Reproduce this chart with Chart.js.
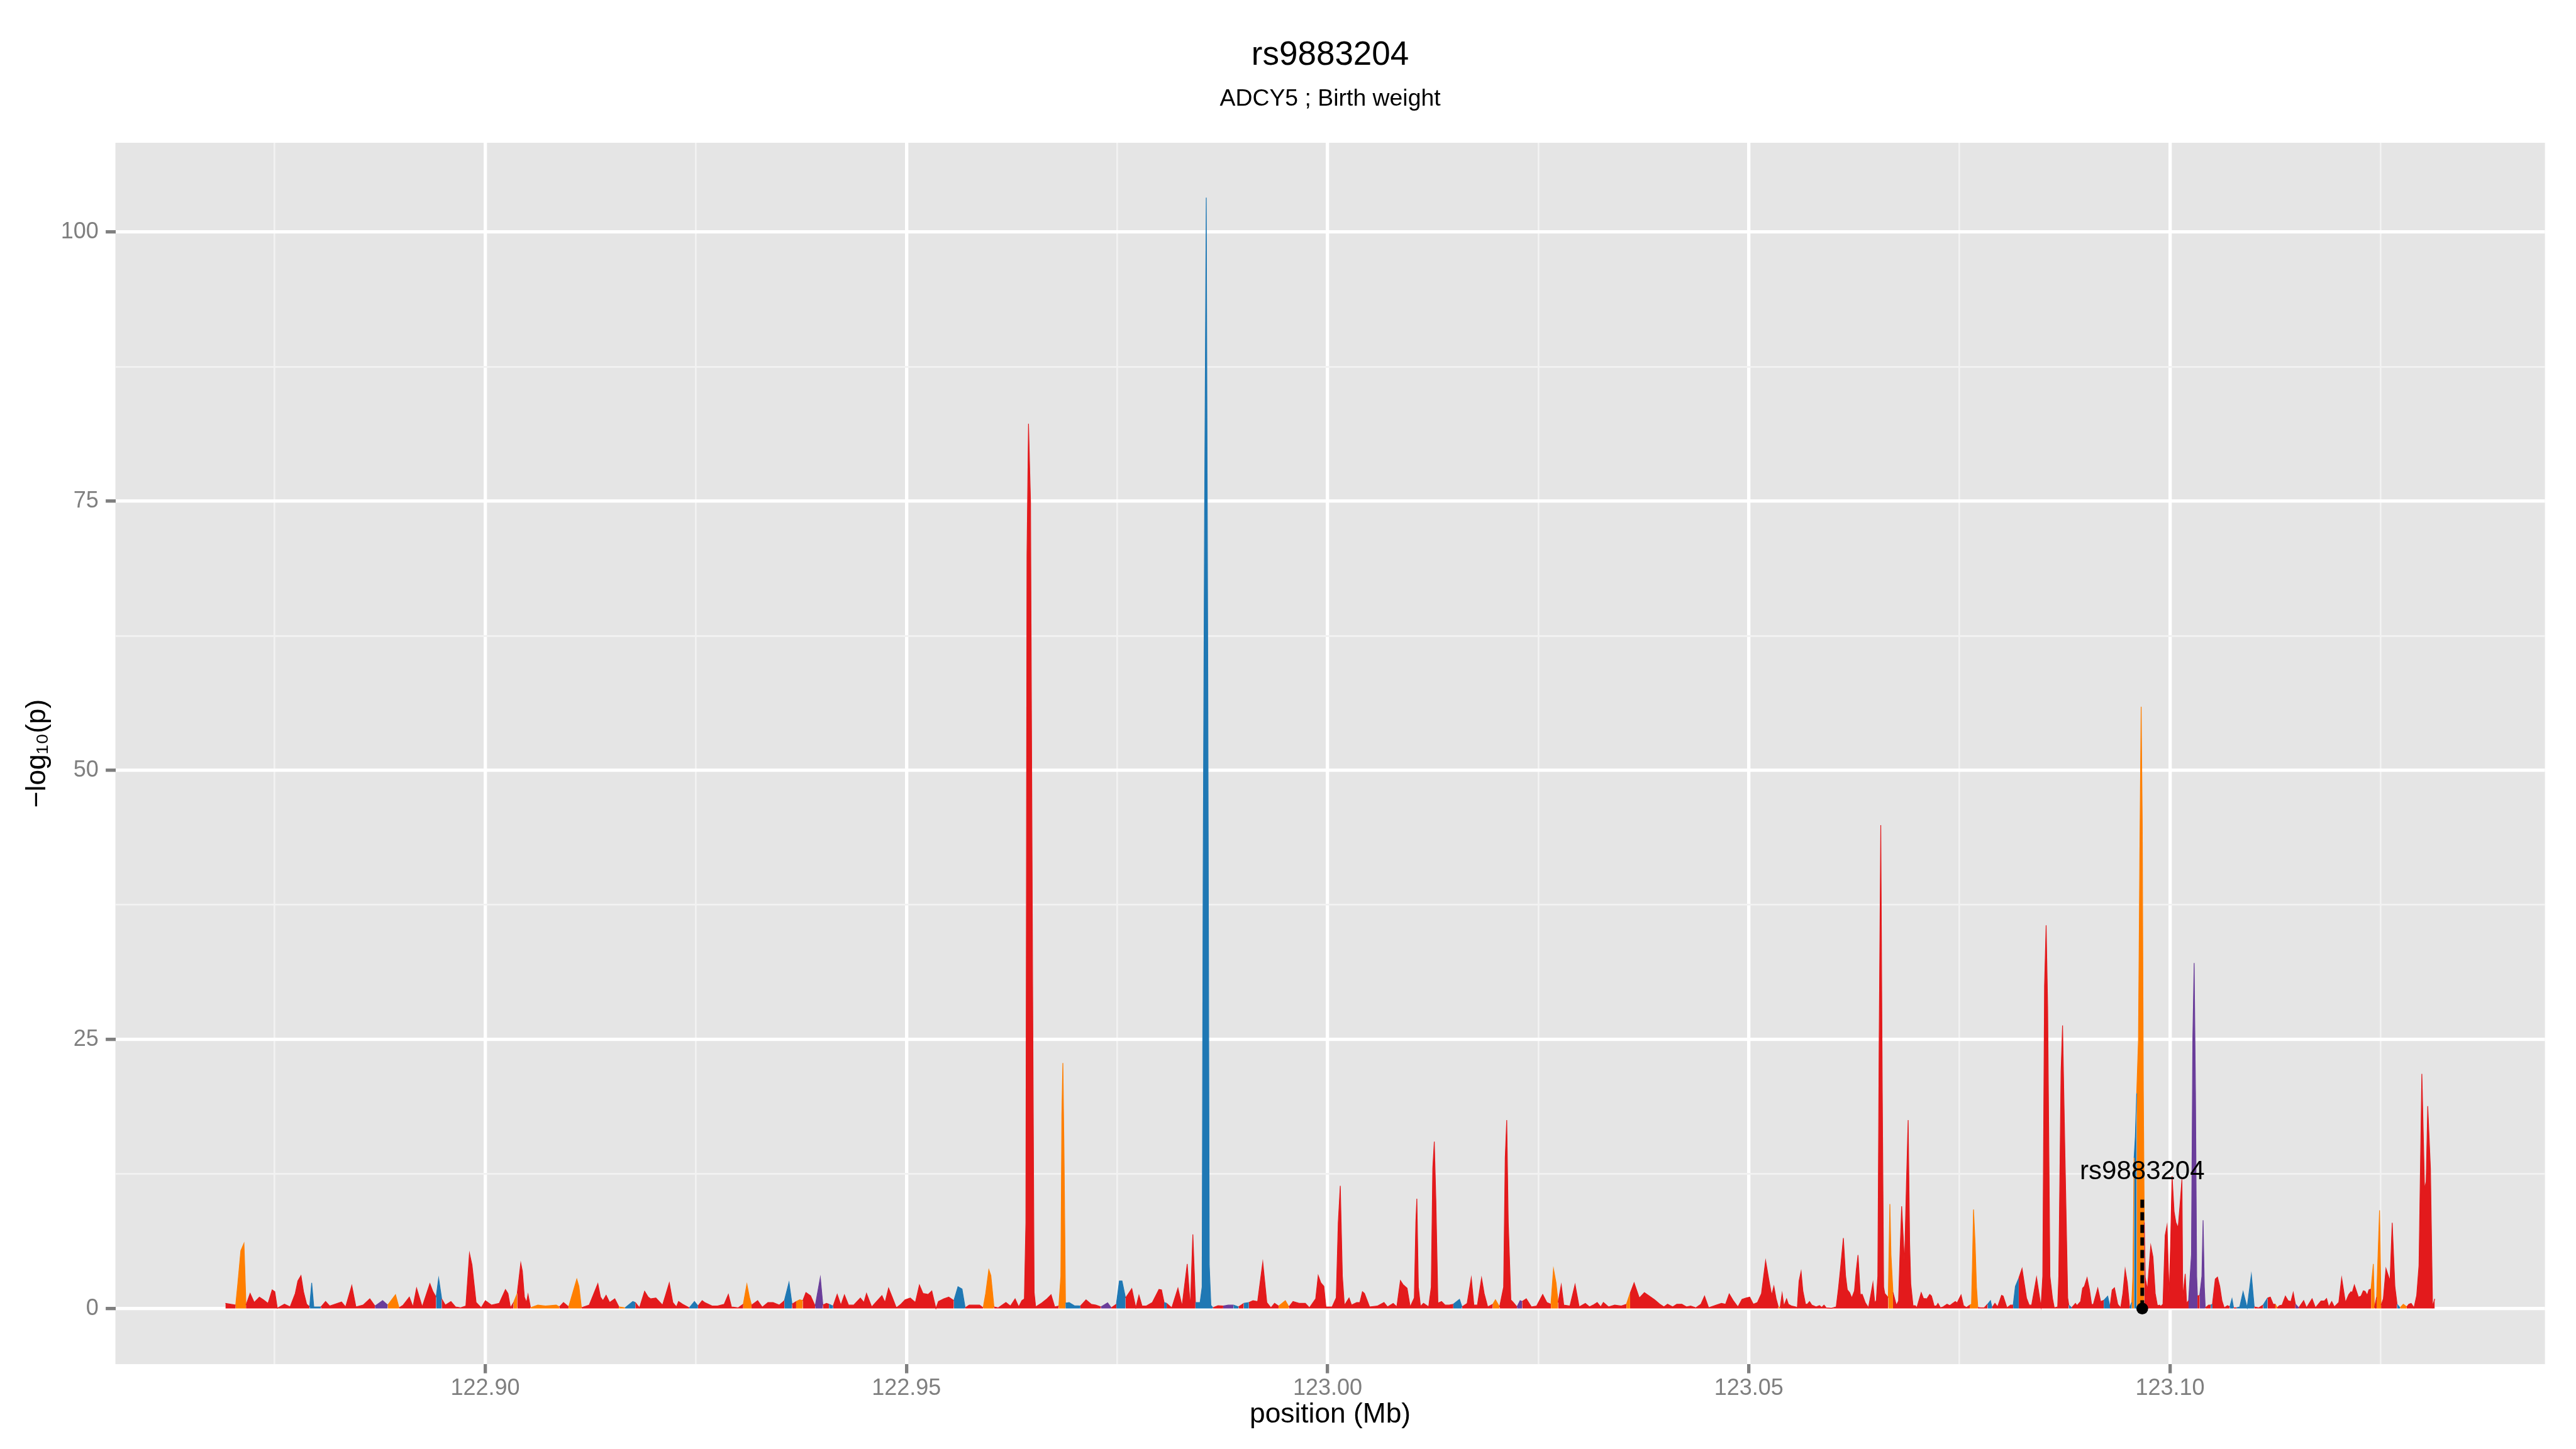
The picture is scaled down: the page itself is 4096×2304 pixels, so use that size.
<!DOCTYPE html>
<html>
<head>
<meta charset="utf-8">
<title>rs9883204</title>
<script src="https://cdn.jsdelivr.net/npm/chart.js@4.4.0/dist/chart.umd.min.js"></script>
<style>
  html, body { margin: 0; padding: 0; background: #ffffff; }
</style>
</head>
<body>
<canvas id="locusPlot" width="4096" height="2304"></canvas>
<script>
// SNP positions (Mb), -log10(p) and class of each SNP (1 red, 2 orange, 3 blue, 4 purple)
const positionMb = [
  122.86916, 122.87038, 122.87062, 122.87099, 122.87136, 122.87160, 122.87209, 122.87258, 122.87319, 122.87367,
  122.87422, 122.87471, 122.87502, 122.87532, 122.87617, 122.87684, 122.87745, 122.87776, 122.87813, 122.87843,
  122.87880, 122.87916, 122.87940, 122.87965, 122.88050, 122.88105, 122.88154, 122.88215, 122.88294, 122.88343,
  122.88416, 122.88465, 122.88550, 122.88630, 122.88691, 122.88782, 122.88843, 122.88935, 122.88977, 122.89026,
  122.89099, 122.89142, 122.89185, 122.89252, 122.89343, 122.89380, 122.89417, 122.89447, 122.89483, 122.89526,
  122.89593, 122.89648, 122.89709, 122.89770, 122.89813, 122.89843, 122.89892, 122.89953, 122.90002, 122.90075,
  122.90166, 122.90240, 122.90270, 122.90300, 122.90337, 122.90380, 122.90422, 122.90441, 122.90465, 122.90490,
  122.90508, 122.90538, 122.90624, 122.90715, 122.90843, 122.90880, 122.90929, 122.90990, 122.91087, 122.91112,
  122.91142, 122.91234, 122.91337, 122.91368, 122.91398, 122.91435, 122.91477, 122.91538, 122.91587, 122.91660,
  122.91752, 122.91782, 122.91831, 122.91892, 122.91935, 122.91965, 122.92026, 122.92105, 122.92185, 122.92227,
  122.92270, 122.92295, 122.92343, 122.92423, 122.92484, 122.92526, 122.92575, 122.92605, 122.92697, 122.92758,
  122.92837, 122.92886, 122.92923, 122.93002, 122.93063, 122.93106, 122.93136, 122.93161, 122.93234, 122.93289,
  122.93356, 122.93417, 122.93490, 122.93551, 122.93606, 122.93642, 122.93691, 122.93734, 122.93770, 122.93807,
  122.93862, 122.93917, 122.93978, 122.94008, 122.94051, 122.94081, 122.94130, 122.94178, 122.94222, 122.94264,
  122.94313, 122.94374, 122.94453, 122.94496, 122.94526, 122.94587, 122.94709, 122.94746, 122.94788, 122.94831,
  122.94880, 122.94935, 122.94984, 122.95045, 122.95106, 122.95154, 122.95197, 122.95258, 122.95301, 122.95350,
  122.95380, 122.95441, 122.95502, 122.95563, 122.95612, 122.95660, 122.95697, 122.95746, 122.95807, 122.95868,
  122.95911, 122.95941, 122.95978, 122.96002, 122.96039, 122.96089, 122.96181, 122.96235, 122.96290, 122.96333,
  122.96370, 122.96400, 122.96418, 122.96431, 122.96449, 122.96473, 122.96498, 122.96516, 122.96534, 122.96607,
  122.96668, 122.96717, 122.96760, 122.96809, 122.96833, 122.96845, 122.96857, 122.96870, 122.96888, 122.96931,
  122.96992, 122.97065, 122.97132, 122.97193, 122.97248, 122.97309, 122.97388, 122.97431, 122.97492, 122.97528,
  122.97559, 122.97601, 122.97675, 122.97723, 122.97760, 122.97797, 122.97845, 122.97919, 122.97998, 122.98028,
  122.98059, 122.98089, 122.98150, 122.98223, 122.98272, 122.98333, 122.98370, 122.98400, 122.98431, 122.98486,
  122.98510, 122.98522, 122.98540, 122.98559, 122.98577, 122.98595, 122.98614, 122.98638, 122.98699, 122.98760,
  122.98821, 122.98882, 122.98943, 122.99004, 122.99065, 122.99114, 122.99169, 122.99230, 122.99278, 122.99327,
  122.99370, 122.99418, 122.99498, 122.99540, 122.99589, 122.99662, 122.99735, 122.99784, 122.99858, 122.99888,
  122.99919, 122.99955, 122.99980, 123.00053, 123.00102, 123.00126, 123.00150, 123.00175, 123.00199, 123.00254,
  123.00284, 123.00345, 123.00382, 123.00413, 123.00437, 123.00498, 123.00589, 123.00669, 123.00711, 123.00778,
  123.00821, 123.00864, 123.00894, 123.00943, 123.00980, 123.01029, 123.01047, 123.01059, 123.01077, 123.01102,
  123.01138, 123.01199, 123.01230, 123.01248, 123.01266, 123.01285, 123.01309, 123.01352, 123.01394, 123.01443,
  123.01492, 123.01565, 123.01595, 123.01656, 123.01705, 123.01736, 123.01778, 123.01827, 123.01858, 123.01900,
  123.01961, 123.01992, 123.02041, 123.02089, 123.02108, 123.02126, 123.02144, 123.02175, 123.02205, 123.02248,
  123.02285, 123.02309, 123.02358, 123.02419, 123.02480, 123.02553, 123.02602, 123.02651, 123.02681, 123.02711,
  123.02736, 123.02773, 123.02803, 123.02876, 123.02937, 123.02986, 123.03059, 123.03108, 123.03151, 123.03200,
  123.03242, 123.03273, 123.03334, 123.03407, 123.03486, 123.03547, 123.03590, 123.03638, 123.03700, 123.03760,
  123.03821, 123.03882, 123.03943, 123.03992, 123.04035, 123.04096, 123.04144, 123.04205, 123.04260, 123.04309,
  123.04370, 123.04431, 123.04474, 123.04523, 123.04614, 123.04675, 123.04724, 123.04767, 123.04815, 123.04870,
  123.04919, 123.04968, 123.05010, 123.05053, 123.05102, 123.05150, 123.05199, 123.05236, 123.05271, 123.05297,
  123.05324, 123.05350, 123.05371, 123.05395, 123.05416, 123.05448, 123.05469, 123.05509, 123.05556, 123.05575,
  123.05596, 123.05620, 123.05641, 123.05673, 123.05694, 123.05720, 123.05747, 123.05799, 123.05839, 123.05865,
  123.05892, 123.05918, 123.05979, 123.06037, 123.06064, 123.06090, 123.06122, 123.06148, 123.06169, 123.06196,
  123.06222, 123.06254, 123.06275, 123.06296, 123.06323, 123.06346, 123.06381, 123.06420, 123.06447, 123.06473,
  123.06494, 123.06513, 123.06531, 123.06547, 123.06566, 123.06584, 123.06600, 123.06613, 123.06655, 123.06674,
  123.06687, 123.06711, 123.06751, 123.06777, 123.06798, 123.06814, 123.06848, 123.06872, 123.06891, 123.06909,
  123.06922, 123.06949, 123.06975, 123.06994, 123.07046, 123.07073, 123.07113, 123.07147, 123.07168, 123.07200,
  123.07226, 123.07245, 123.07274, 123.07305, 123.07353, 123.07385, 123.07419, 123.07451, 123.07472, 123.07519,
  123.07548, 123.07583, 123.07622, 123.07643, 123.07654, 123.07667, 123.07686, 123.07702, 123.07718, 123.07754,
  123.07794, 123.07834, 123.07868, 123.07887, 123.07921, 123.07953, 123.08000, 123.08019, 123.08064, 123.08106,
  123.08138, 123.08164, 123.08204, 123.08243, 123.08296, 123.08328, 123.08357, 123.08415, 123.08468, 123.08489,
  123.08510, 123.08529, 123.08547, 123.08574, 123.08605, 123.08626, 123.08666, 123.08679, 123.08706, 123.08724,
  123.08753, 123.08785, 123.08798, 123.08832, 123.08877, 123.08896, 123.08938, 123.08962, 123.08983, 123.09015,
  123.09044, 123.09068, 123.09089, 123.09142, 123.09176, 123.09213, 123.09260, 123.09287, 123.09313, 123.09340,
  123.09379, 123.09414, 123.09440, 123.09467, 123.09493, 123.09520, 123.09546, 123.09559, 123.09573, 123.09588,
  123.09604, 123.09625, 123.09641, 123.09657, 123.09670, 123.09683, 123.09694, 123.09705, 123.09731, 123.09771,
  123.09797, 123.09824, 123.09850, 123.09876, 123.09890, 123.09916, 123.09942, 123.09964, 123.09990, 123.10006,
  123.10024, 123.10048, 123.10069, 123.10096, 123.10122, 123.10141, 123.10151, 123.10164, 123.10180, 123.10196,
  123.10220, 123.10254, 123.10270, 123.10286, 123.10302, 123.10316, 123.10325, 123.10352, 123.10378, 123.10392,
  123.10407, 123.10418, 123.10458, 123.10484, 123.10503, 123.10537, 123.10563, 123.10590, 123.10616, 123.10643,
  123.10682, 123.10709, 123.10735, 123.10754, 123.10788, 123.10827, 123.10867, 123.10915, 123.10965, 123.10999,
  123.11052, 123.11105, 123.11158, 123.11190, 123.11224, 123.11250, 123.11271, 123.11298, 123.11329, 123.11369,
  123.11401, 123.11435, 123.11462, 123.11488, 123.11528, 123.11586, 123.11620, 123.11686, 123.11726, 123.11792,
  123.11831, 123.11858, 123.11884, 123.11919, 123.11950, 123.12003, 123.12037, 123.12082, 123.12122, 123.12148,
  123.12162, 123.12188, 123.12236, 123.12267, 123.12294, 123.12315, 123.12341, 123.12360, 123.12386, 123.12413,
  123.12426, 123.12452, 123.12487, 123.12505, 123.12532, 123.12563, 123.12611, 123.12637, 123.12669, 123.12695,
  123.12730, 123.12769, 123.12809, 123.12835, 123.12862, 123.12896, 123.12928, 123.12955, 123.12989, 123.13021,
  123.13040, 123.13059, 123.13091, 123.13116, 123.13142
];

const log10p = [
  0.48, 0.32, 2.23, 5.38, 6.05, 0.32, 1.40, 0.56, 1.06, 0.81,
  0.48, 1.73, 1.56, 0.03, 0.40, 0.15, 1.40, 2.56, 3.06, 1.56,
  0.40, 0.15, 2.39, 0.15, 0.15, 0.65, 0.23, 0.40, 0.61, 0.15,
  2.14, 0.15, 0.32, 0.90, 0.23, 0.73, 0.32, 1.28, 0.07, 0.32,
  1.06, 0.15, 1.89, 0.15, 2.31, 1.56, 1.06, 2.81, 0.90, 0.32,
  0.65, 0.15, 0.07, 0.23, 5.13, 4.05, 0.56, 0.07, 0.73, 0.32,
  0.48, 1.76, 1.40, 0.07, 0.56, 1.40, 4.22, 3.47, 1.06, 0.56,
  1.31, 0.07, 0.32, 0.23, 0.32, 0.15, 0.56, 0.15, 2.73, 2.06,
  0.07, 0.32, 2.31, 1.06, 0.73, 1.23, 0.56, 0.90, 0.15, 0.07,
  0.65, 0.56, 0.07, 1.60, 1.06, 0.90, 0.98, 0.32, 2.39, 0.56,
  0.15, 0.65, 0.40, 0.07, 0.65, 0.23, 0.73, 0.56, 0.23, 0.23,
  0.40, 1.31, 0.15, 0.07, 0.40, 2.26, 1.06, 0.32, 0.73, 0.12,
  0.56, 0.56, 0.32, 0.73, 2.43, 0.40, 0.65, 0.81, 0.73, 1.48,
  1.18, 0.23, 2.89, 0.32, 0.48, 0.40, 0.23, 1.31, 0.32, 1.26,
  0.32, 0.32, 0.98, 0.56, 1.40, 0.15, 1.20, 0.56, 1.89, 1.06,
  0.07, 0.40, 0.81, 0.98, 0.56, 2.19, 1.40, 1.31, 1.63, 0.00,
  0.65, 0.90, 1.06, 0.73, 2.03, 1.81, 0.07, 0.32, 0.32, 0.32,
  0.07, 1.40, 3.61, 3.06, 0.15, 0.07, 0.56, 0.23, 0.90, 0.15,
  0.73, 0.90, 8.0, 70.0, 82.2, 75.0, 30.0, 1.5, 0.15, 0.52,
  0.90, 1.28, 0.15, 0.23, 3.0, 18.0, 22.8, 15.0, 0.5, 0.56,
  0.27, 0.23, 0.81, 0.40, 0.32, 0.15, 0.53, 0.07, 0.40, 2.56,
  2.56, 0.98, 1.84, 0.07, 1.23, 0.23, 0.23, 0.56, 1.78, 1.73,
  0.56, 0.48, 0.07, 1.89, 0.23, 4.14, 0.15, 6.88, 0.56, 0.56,
  2.0, 40.0, 75.0, 103.2, 60.0, 4.0, 0.3, 0.07, 0.27, 0.23,
  0.32, 0.32, 0.15, 0.48, 0.56, 0.73, 0.65, 4.30, 0.56, 0.07,
  0.48, 0.23, 0.73, 0.15, 0.65, 0.48, 0.48, 0.07, 0.90, 3.06,
  2.39, 2.06, 0.15, 0.15, 1.0, 8.0, 11.4, 3.0, 0.3, 0.98,
  0.32, 0.56, 0.56, 1.56, 1.40, 0.15, 0.23, 0.56, 0.15, 0.48,
  0.15, 2.59, 2.23, 1.89, 0.15, 1.0, 8.0, 10.2, 2.0, 0.2,
  0.48, 0.15, 2.0, 13.0, 15.5, 10.0, 0.5, 0.65, 0.32, 0.32,
  0.40, 0.86, 0.15, 0.48, 2.84, 0.32, 0.32, 2.84, 1.40, 0.15,
  0.40, 0.81, 0.15, 2.0, 14.0, 17.5, 8.0, 0.8, 0.56, 0.15,
  0.73, 0.65, 0.90, 0.15, 0.23, 1.31, 0.56, 0.40, 3.67, 2.39,
  0.56, 2.19, 0.32, 0.23, 2.23, 0.15, 0.48, 0.15, 0.32, 0.56,
  0.15, 0.56, 0.15, 0.32, 0.23, 0.40, 1.40, 2.39, 0.98, 1.48,
  1.15, 0.81, 0.40, 0.15, 0.40, 0.15, 0.40, 0.40, 0.15, 0.23,
  0.07, 0.40, 1.15, 0.07, 0.32, 0.48, 0.40, 1.36, 0.73, 0.15,
  0.86, 0.98, 1.06, 0.40, 0.56, 1.40, 4.44, 2.73, 1.23, 2.06,
  0.90, 0.15, 0.07, 1.40, 0.23, 0.90, 0.40, 0.23, 0.15, 0.07,
  2.56, 3.44, 1.65, 0.40, 0.40, 0.65, 0.32, 0.15, 0.27, 0.10,
  0.32, 0.07, 0.03, 0.15, 1.89, 3.89, 6.55, 3.06, 1.73, 1.48,
  0.98, 1.65, 3.56, 4.97, 1.31, 1.31, 0.56, 0.07, 1.23, 2.39,
  0.56, 0.73, 3.0, 25.0, 44.9, 20.0, 2.0, 1.40, 1.0, 9.7,
  5.0, 1.5, 0.3, 0.7, 6.0, 9.5, 4.2, 12.0, 17.5, 6.0,
  2.3, 0.27, 0.27, 0.07, 1.48, 0.93, 0.90, 1.31, 1.15, 0.23,
  0.23, 0.48, 0.07, 0.15, 0.40, 0.27, 0.48, 0.65, 0.52, 1.26,
  0.27, 0.10, 0.32, 0.40, 4.0, 9.2, 6.0, 2.0, 0.1, 0.07,
  0.07, 0.40, 0.73, 0.07, 0.48, 0.15, 1.23, 1.15, 0.07, 0.32,
  0.32, 2.06, 2.81, 3.72, 0.98, 0.32, 0.32, 2.89, 0.15, 3.0,
  30.0, 35.6, 28.0, 3.0, 0.90, 0.07, 0.15, 3.0, 22.0, 26.3,
  14.0, 1.0, 0.32, 0.07, 0.48, 0.27, 0.65, 1.89, 2.06, 2.86,
  1.73, 0.40, 0.37, 1.89, 0.65, 0.76, 1.15, 0.15, 1.73, 1.93,
  0.40, 0.07, 1.40, 3.64, 2.39, 0.07, 0.56, 3.0, 14.0, 16.0,
  20.0, 25.0, 42.0, 55.9, 45.0, 20.0, 8.0, 2.9, 1.73, 5.85,
  4.80, 1.40, 0.27, 0.32, 0.20, 0.40, 6.80, 7.71, 1.15, 6.0,
  12.3, 9.0, 8.0, 7.5, 10.0, 12.0, 1.0, 2.0, 3.22, 0.5,
  0.73, 5.0, 25.0, 32.1, 20.0, 3.0, 1.15, 1.23, 3.0, 8.2,
  2.0, 0.07, 0.32, 0.32, 0.40, 2.73, 2.92, 2.06, 0.73, 0.07,
  0.27, 0.15, 0.90, 0.07, 0.07, 0.15, 1.56, 0.07, 3.14, 0.15,
  0.07, 0.32, 0.98, 1.06, 0.40, 0.40, 0.07, 0.27, 0.32, 1.15,
  0.73, 0.65, 1.48, 0.40, 0.07, 0.73, 0.07, 0.90, 0.07, 0.70,
  0.70, 0.93, 0.15, 0.65, 0.15, 0.56, 2.84, 0.56, 1.31, 1.56,
  1.48, 2.18, 1.06, 1.15, 1.65, 1.60, 1.23, 1.73, 1.81, 4.14,
  0.07, 1.06, 9.12, 0.32, 0.90, 3.72, 2.56, 7.96, 2.06, 0.40,
  0.07, 0.40, 0.15, 0.40, 0.48, 0.07, 1.23, 4.0, 21.8, 11.1,
  11.8, 18.8, 13.0, 0.2, 0.9
];

const snpClass = [
  1, 1, 2, 2, 2, 2, 1, 1, 1, 1,
  1, 1, 1, 1, 1, 1, 1, 1, 1, 1,
  1, 1, 3, 3, 1, 1, 1, 1, 1, 1,
  1, 1, 1, 1, 1, 4, 1, 2, 2, 1,
  1, 1, 1, 1, 1, 1, 1, 3, 1, 4,
  1, 1, 1, 1, 1, 1, 1, 1, 1, 1,
  1, 1, 1, 1, 1, 2, 1, 1, 1, 1,
  1, 1, 2, 1, 2, 1, 1, 1, 2, 2,
  1, 1, 1, 1, 1, 1, 1, 1, 2, 1,
  3, 1, 1, 1, 1, 1, 1, 1, 1, 1,
  1, 1, 1, 1, 3, 1, 1, 1, 1, 1,
  1, 1, 1, 1, 1, 2, 2, 1, 1, 2,
  1, 1, 1, 1, 3, 1, 1, 2, 1, 1,
  1, 1, 4, 1, 1, 3, 1, 1, 1, 1,
  1, 2, 1, 3, 1, 1, 1, 3, 1, 1,
  1, 1, 1, 1, 1, 1, 1, 3, 1, 3,
  1, 1, 1, 3, 3, 3, 3, 1, 1, 1,
  1, 2, 2, 2, 1, 1, 1, 1, 1, 1,
  1, 1, 1, 1, 1, 1, 1, 1, 1, 1,
  1, 1, 1, 1, 2, 2, 2, 2, 2, 3,
  3, 3, 1, 1, 1, 1, 4, 1, 1, 3,
  3, 1, 1, 1, 1, 1, 1, 1, 1, 1,
  3, 1, 1, 1, 1, 1, 1, 1, 3, 3,
  3, 3, 3, 3, 3, 3, 3, 1, 1, 1,
  4, 3, 1, 1, 3, 1, 1, 1, 1, 3,
  1, 3, 2, 1, 1, 1, 1, 3, 1, 1,
  1, 1, 1, 1, 1, 1, 1, 1, 1, 1,
  1, 1, 1, 1, 1, 1, 1, 1, 1, 1,
  1, 1, 1, 1, 1, 1, 1, 1, 1, 1,
  1, 1, 1, 1, 1, 1, 1, 1, 1, 1,
  1, 3, 1, 1, 1, 1, 1, 1, 1, 1,
  1, 2, 1, 1, 1, 1, 1, 1, 1, 1,
  4, 2, 1, 1, 1, 1, 1, 1, 2, 2,
  1, 1, 1, 1, 1, 1, 1, 1, 1, 1,
  1, 1, 1, 1, 1, 1, 2, 1, 1, 1,
  1, 1, 1, 2, 1, 1, 1, 1, 2, 1,
  1, 1, 1, 2, 1, 1, 1, 1, 1, 1,
  1, 1, 1, 1, 1, 1, 1, 1, 1, 1,
  1, 2, 1, 1, 1, 1, 1, 1, 1, 1,
  1, 1, 1, 1, 1, 1, 1, 1, 1, 1,
  1, 1, 1, 1, 1, 1, 1, 1, 1, 1,
  1, 1, 1, 1, 1, 1, 1, 1, 1, 1,
  1, 1, 1, 1, 1, 1, 1, 1, 2, 2,
  2, 1, 1, 1, 1, 1, 1, 1, 1, 1,
  1, 1, 1, 1, 1, 1, 1, 1, 1, 1,
  1, 1, 1, 1, 1, 1, 1, 1, 1, 1,
  1, 1, 1, 2, 2, 2, 2, 2, 1, 1,
  1, 1, 3, 1, 1, 1, 1, 1, 1, 1,
  1, 3, 3, 1, 1, 1, 3, 1, 1, 1,
  1, 1, 1, 1, 1, 1, 1, 1, 1, 1,
  1, 1, 3, 1, 1, 1, 1, 1, 1, 1,
  1, 1, 1, 1, 1, 1, 3, 1, 1, 1,
  1, 1, 1, 1, 1, 3, 3, 2, 2, 3,
  3, 2, 2, 2, 2, 2, 1, 1, 1, 1,
  1, 1, 1, 1, 1, 1, 1, 1, 1, 1,
  1, 1, 1, 1, 1, 1, 3, 1, 1, 1,
  1, 4, 4, 4, 4, 4, 1, 1, 4, 4,
  4, 1, 1, 1, 3, 1, 1, 1, 1, 1,
  1, 1, 3, 1, 1, 3, 3, 3, 3, 1,
  1, 1, 3, 1, 1, 2, 1, 1, 1, 1,
  1, 1, 1, 4, 1, 1, 1, 1, 1, 1,
  1, 1, 1, 1, 1, 1, 1, 1, 1, 1,
  1, 1, 1, 1, 1, 1, 1, 1, 1, 2,
  1, 1, 2, 1, 1, 1, 1, 1, 1, 3,
  1, 2, 1, 1, 1, 1, 1, 1, 1, 1,
  1, 1, 1, 1, 1
];

const xTicks = [122.875, 122.9, 122.925, 122.95, 122.975, 123.0, 123.025, 123.05, 123.075, 123.1, 123.125];
const yTicks = [0, 12.5, 25, 37.5, 50, 62.5, 75, 87.5, 100];

const leadSnp = 'rs9883204';
const leadPos = 123.0967;
const leadLineTop = 10.3;
const leadLabelY = 12.7;

const classColors = { 1: '#E31A1C', 2: '#FF7F00', 3: '#1F78B4', 4: '#6A3D9A' };

const isMajorX = v => Math.abs(v * 20 - Math.round(v * 20)) < 1e-6;
const isMajorY = v => v % 25 === 0;

// colour each stretch of the area by the SNP at its higher end
function segColor(ctx) {
  const i = ctx.p0.parsed.y >= ctx.p1.parsed.y ? ctx.p0DataIndex : ctx.p1DataIndex;
  return classColors[snpClass[i]];
}

const panelBg = {
  id: 'panelBg',
  beforeDraw(chart) {
    const { ctx, chartArea: a } = chart;
    ctx.save();
    ctx.fillStyle = '#E5E5E5';
    ctx.fillRect(a.left, a.top, a.right - a.left, a.bottom - a.top);
    ctx.restore();
  }
};

const leadLabel = {
  id: 'leadLabel',
  afterDatasetsDraw(chart) {
    const { ctx, scales } = chart;
    ctx.save();
    ctx.font = '42px "Liberation Sans", Arial, sans-serif';
    ctx.fillStyle = '#000000';
    ctx.textAlign = 'center';
    ctx.textBaseline = 'middle';
    ctx.fillText(leadSnp, scales.x.getPixelForValue(leadPos), scales.y.getPixelForValue(leadLabelY));
    ctx.restore();
  }
};

Chart.defaults.font.family = '"Liberation Sans", Arial, Helvetica, sans-serif';

const gridOpts = (isMajor, tickLength) => ({
  color: c => (c.tick && isMajor(c.tick.value)) ? '#FFFFFF' : '#F2F2F2',
  lineWidth: c => (c.tick && isMajor(c.tick.value)) ? 5.3 : 2.7,
  tickColor: c => (c.tick && isMajor(c.tick.value)) ? '#7F7F7F' : 'rgba(0,0,0,0)',
  tickWidth: 5.3,
  tickLength: tickLength
});

new Chart(document.getElementById('locusPlot'), {
  type: 'line',
  data: {
    datasets: [
      {
        label: 'lead dot',
        type: 'scatter',
        data: [{ x: leadPos, y: 0 }],
        pointRadius: 9.4,
        pointBackgroundColor: '#000000',
        pointBorderWidth: 0,
        order: 1
      },
      {
        label: 'lead line',
        data: [{ x: leadPos, y: 0 }, { x: leadPos, y: leadLineTop }],
        borderColor: '#000000',
        borderWidth: 6,
        borderDash: [13, 7],
        borderCapStyle: 'butt',
        pointRadius: 0,
        fill: false,
        order: 2
      },
      {
        label: '-log10(p)',
        data: positionMb.map((x, i) => ({ x: x, y: log10p[i] })),
        fill: 'origin',
        backgroundColor: classColors[1],
        borderColor: classColors[1],
        borderWidth: 1.2,
        pointRadius: 0,
        tension: 0,
        segment: {
          backgroundColor: segColor,
          borderColor: segColor
        },
        order: 3
      }
    ]
  },
  options: {
    responsive: false,
    devicePixelRatio: 1,
    animation: false,
    layout: { padding: { top: 0, right: 49.4, bottom: 0, left: 0 } },
    scales: {
      x: {
        type: 'linear',
        min: 122.8561,
        max: 123.1445,
        afterBuildTicks: s => { s.ticks = xTicks.map(v => ({ value: v })); },
        afterFit: s => { s.height = 134.9; },
        border: { display: false },
        grid: gridOpts(isMajorX, 14.5),
        ticks: {
          autoSkip: false,
          maxRotation: 0,
          color: '#7F7F7F',
          font: { size: 36 },
          padding: 2.7,
          callback: v => isMajorX(v) ? v.toFixed(2) : ''
        },
        title: {
          display: true,
          text: 'position (Mb)',
          color: '#000000',
          font: { size: 44.3 },
          padding: { top: 0, bottom: 27.2 }
        }
      },
      y: {
        type: 'linear',
        min: -5.17,
        max: 108.3,
        afterBuildTicks: s => { s.ticks = yTicks.map(v => ({ value: v })); },
        afterFit: s => { s.width = 183.5; },
        border: { display: false },
        grid: gridOpts(isMajorY, 15.4),
        ticks: {
          color: '#7F7F7F',
          font: { size: 36 },
          padding: 11.4,
          callback: v => isMajorY(v) ? String(v) : ''
        },
        title: {
          display: true,
          text: '−log₁₀(p)',
          color: '#000000',
          font: { size: 44.3 },
          padding: { top: 33.4, bottom: 0 }
        }
      }
    },
    plugins: {
      legend: { display: false },
      tooltip: { enabled: false },
      title: {
        display: true,
        fullSize: false,
        text: 'rs9883204',
        color: '#000000',
        font: { size: 53, weight: 'normal' },
        padding: { top: 56.4, bottom: 15.25 }
      },
      subtitle: {
        display: true,
        fullSize: false,
        text: 'ADCY5 ; Birth weight',
        color: '#000000',
        font: { size: 37.4, weight: 'normal' },
        padding: { top: 0, bottom: 46.85 }
      }
    }
  },
  plugins: [panelBg, leadLabel]
});
</script>
</body>
</html>
